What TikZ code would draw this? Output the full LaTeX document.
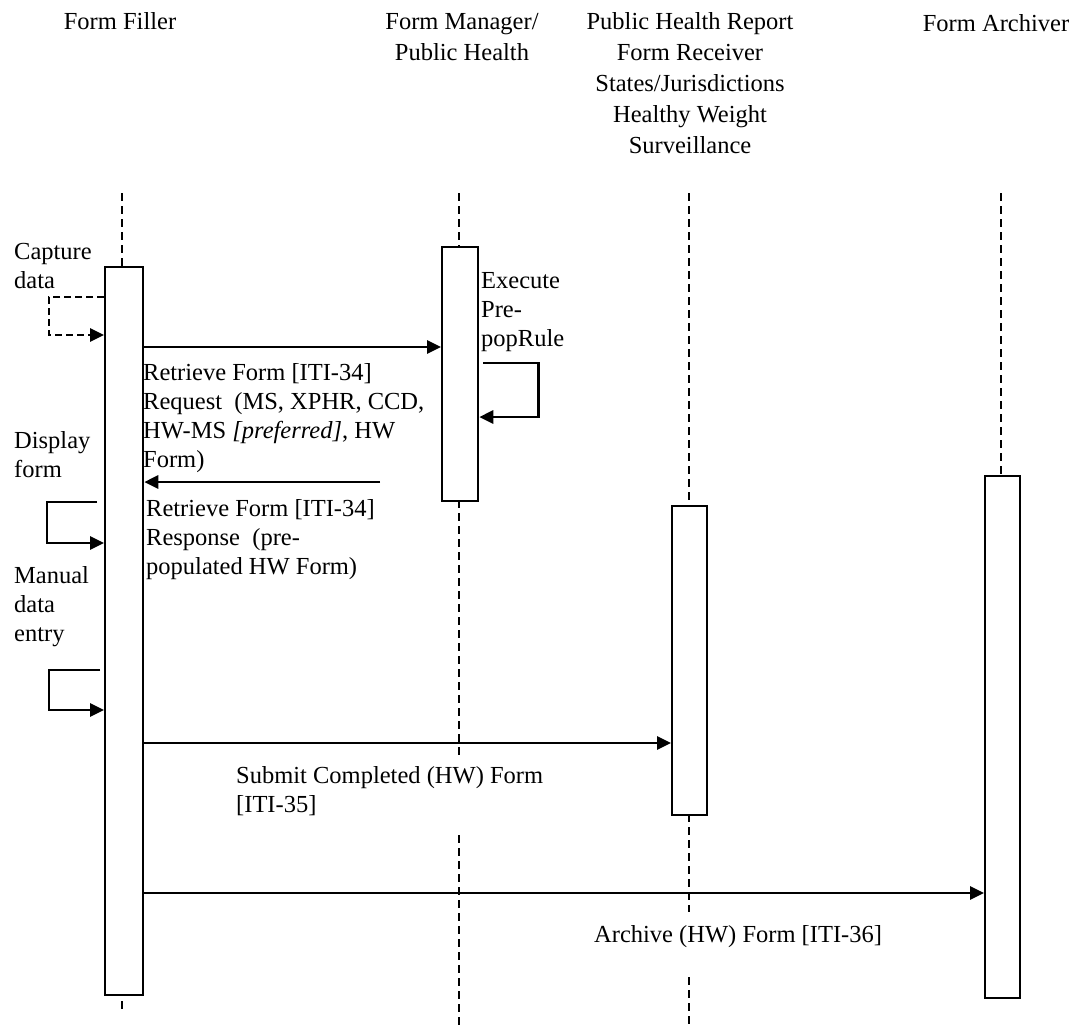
\documentclass[tikz,border=0pt]{standalone}
\usepackage{fontspec}
\setmainfont{Liberation Serif}
\usetikzlibrary{arrows.meta}
\begin{document}
\begin{tikzpicture}[x=1pt,y=-1pt,
  lbl/.style={font=\fontsize{24.5}{29}\selectfont, align=left, anchor=north west, inner sep=0pt},
  hdr/.style={font=\fontsize{24.5}{31}\selectfont, align=center, anchor=north, inner sep=0pt},
  life/.style={line width=2pt, dash pattern=on 8pt off 5pt},
  act/.style={draw, line width=2.3pt, fill=white, inner sep=0pt, anchor=north west},
  msg/.style={line width=2.8pt, -{Triangle[length=14pt,width=13pt]}},
  dmsg/.style={msg, dash pattern=on 7pt off 4pt}]
\useasboundingbox (0,0) rectangle (1075,1027);

% headers
\node[hdr] (hff) at (120,7.3) {\strut Form Filler};
\node[hdr] (hfm) at (462,7.3) {\strut Form Manager/\\Public Health};
\node[hdr] (hphr) at (690,7.3) {\strut Public Health Report\\Form Receiver\\States/Jurisdictions\\Healthy Weight\\Surveillance};
\node[hdr] (hfa) at (996,9.3) {\strut Form Archiver};

% lifelines
\draw[life] (122,193) -- (122,266);
\draw[life] (122,1001) -- (122,1011);
\draw[life] (459,193) -- (459,246);
\draw[life] (459,500) -- (459,758);
\draw[life] (459,835) -- (459,1027);
\draw[life] (689,193) -- (689,505);
\draw[life] (689,814) -- (689,912);
\draw[life] (689,977) -- (689,1027);
\draw[life] (1001,193) -- (1001,475);

% activation boxes
\node[act, minimum width=38pt, minimum height=728pt] (ffbox) at (104,266) {};
\node[act, minimum width=36pt, minimum height=254pt] (fmbox) at (441,246) {};
\node[act, minimum width=35pt, minimum height=309pt] (phrbox) at (671,505) {};
\node[act, minimum width=35pt, minimum height=522pt] (fabox) at (984,475) {};
\draw[white, line width=1.3pt] (103.2,423) -- (103.2,488);
\draw[white, line width=1.3pt] (103.2,560) -- (103.2,670);

% message levels
\coordinate (y297) at (0,297);
\coordinate (y335) at (0,335);
\coordinate (y347) at (0,347);
\coordinate (y363) at (0,363);
\coordinate (y417) at (0,417);
\coordinate (resp) at (380,482);
\coordinate (y502) at (0,502);
\coordinate (y543) at (0,543);
\coordinate (y670) at (0,670);
\coordinate (y710) at (0,710);
\coordinate (y743) at (0,743);
\coordinate (y893) at (0,893);

% messages
\draw[dmsg] (ffbox.west |- y297) -- ++(-55,0) |- (ffbox.west |- y335);
\draw[msg] (ffbox.east |- y347) -- (fmbox.west |- y347);
\draw[msg] ([xshift=4pt]fmbox.east |- y363) -- ++(55,0) |- (fmbox.east |- y417);
\draw[msg] (resp) -- (ffbox.east |- resp);
\draw[msg] ([xshift=-7pt]ffbox.west |- y502) -- ++(-50,0) |- (ffbox.west |- y543);
\draw[msg] ([xshift=-4pt]ffbox.west |- y670) -- ++(-51,0) |- (ffbox.west |- y710);
\draw[msg] (ffbox.east |- y743) -- (phrbox.west |- y743);
\draw[msg] (ffbox.east |- y893) -- (fabox.west |- y893);

% labels
\node[lbl] (tcap) at (14,238.7) {\strut Capture\\data};
\node[lbl] (texe) at (481,267.7) {\strut Execute\\Pre-\\popRule};
\node[lbl] (treq) at (143,359.7) {\strut Retrieve Form [ITI-34]\\Request\ \ (MS, XPHR, CCD,\\HW-MS \textit{[preferred]}, HW\\Form)};
\node[lbl] (tresp) at (146,495.7) {\strut Retrieve Form [ITI-34]\\Response\ \ (pre-\\populated HW Form)};
\node[lbl] (tdisp) at (14,427.7) {\strut Display\\form};
\node[lbl] (tman) at (14,562.7) {\strut Manual\\data\\entry};
\node[lbl] (tsub) at (236,762.7) {\strut Submit Completed (HW) Form\\{[ITI-35]}};
\node[lbl] (tarc) at (594,921.7) {\strut Archive (HW) Form [ITI-36]};
\end{tikzpicture}
\end{document}
